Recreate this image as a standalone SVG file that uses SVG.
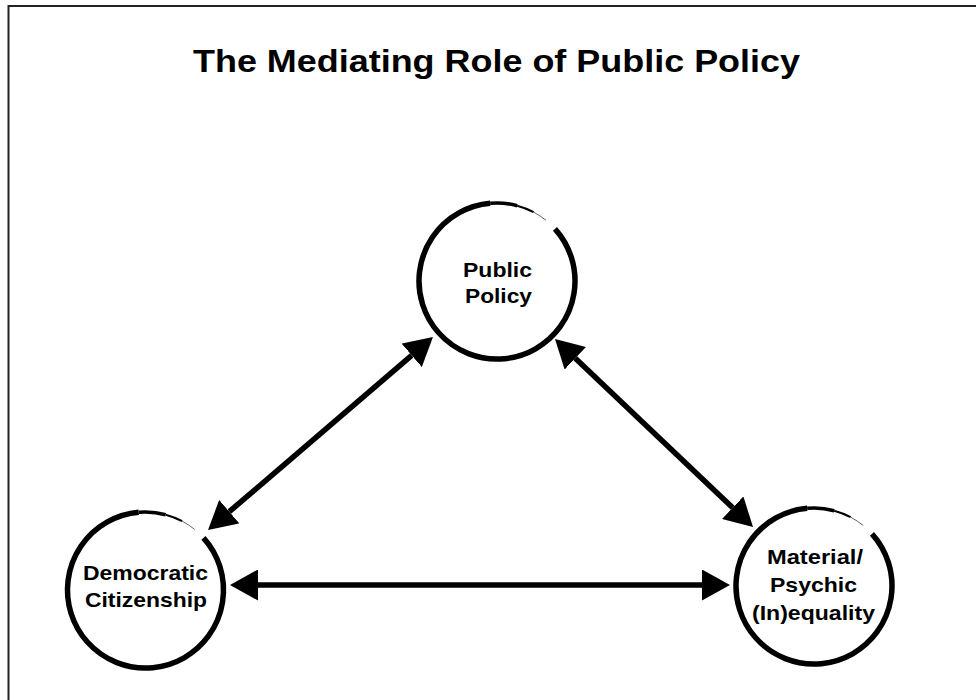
<svg xmlns="http://www.w3.org/2000/svg" xmlns:xlink="http://www.w3.org/1999/xlink" width="976" height="700" viewBox="0 0 976 700">
  <style>
    .title { font-family: "Liberation Sans", Arial, Helvetica, sans-serif; font-weight: bold; font-size: 32px; fill: #000; }
    .label { font-family: "Liberation Sans", Arial, Helvetica, sans-serif; font-weight: bold; font-size: 21px; fill: #000; text-anchor: middle; }
    .frame { fill: none; stroke: #222; stroke-width: 2; }
    .ring { fill: none; stroke: #000; stroke-linecap: butt; }
    .conn { fill: none; stroke: #000; stroke-width: 5.5; stroke-linecap: butt; }
  </style>
  <defs>
    <marker id="head" viewBox="0 0 28 31" refX="0" refY="15.5" markerWidth="28" markerHeight="31" markerUnits="userSpaceOnUse" orient="auto-start-reverse">
      <path d="M0,0 L28,15.5 L0,31 Z" fill="#000"/>
    </marker>
    <g id="ringShape">
      <path class="ring" stroke-width="5.5" d="M57.96,-52.19 A78,78 0 1 1 -6.80,-77.70"/>
      <path class="ring" stroke-width="3.6" d="M-6.80,-77.70 A78,78 0 0 1 20.19,-75.34"/>
      <path class="ring" stroke-width="2" d="M20.19,-75.34 A78,78 0 0 1 36.62,-68.87"/>
      <path class="ring" stroke-width="1" opacity="0.6" d="M36.62,-68.87 A78,78 0 0 1 49.09,-60.62"/>
    </g>
  </defs>
  <rect width="976" height="700" fill="#fff"/>
  <path class="frame" d="M8.5,700 L8.5,6 L976,6"/>
  <text id="title" class="title" x="193" y="72" textLength="607" lengthAdjust="spacingAndGlyphs">The Mediating Role of Public Policy</text>

  <g id="connectors">
    <line class="conn" x1="229.3" y1="511.7" x2="411.7" y2="355.3" marker-start="url(#head)" marker-end="url(#head)"/>
    <line class="conn" x1="575.3" y1="358.3" x2="732.7" y2="507.7" marker-start="url(#head)" marker-end="url(#head)"/>
    <line class="conn" x1="258" y1="585" x2="702" y2="585" marker-start="url(#head)" marker-end="url(#head)"/>
  </g>

  <g id="node-public-policy">
    <use xlink:href="#ringShape" href="#ringShape" x="497" y="281"/>
    <text class="label" x="497.5" y="277.3" textLength="69" lengthAdjust="spacingAndGlyphs">Public</text>
    <text class="label" x="498.5" y="302.7" textLength="67" lengthAdjust="spacingAndGlyphs">Policy</text>
  </g>

  <g id="node-democratic-citizenship">
    <use xlink:href="#ringShape" href="#ringShape" x="145.5" y="590"/>
    <text class="label" x="145.5" y="580" textLength="125" lengthAdjust="spacingAndGlyphs">Democratic</text>
    <text class="label" x="146" y="607.3" textLength="122" lengthAdjust="spacingAndGlyphs">Citizenship</text>
  </g>

  <g id="node-inequality">
    <use xlink:href="#ringShape" href="#ringShape" x="814" y="586"/>
    <text class="label" x="815" y="564" textLength="96" lengthAdjust="spacingAndGlyphs">Material/</text>
    <text class="label" x="813.5" y="592.3" textLength="87" lengthAdjust="spacingAndGlyphs">Psychic</text>
    <text class="label" x="813.5" y="620" textLength="123" lengthAdjust="spacingAndGlyphs">(In)equality</text>
  </g>
</svg>
